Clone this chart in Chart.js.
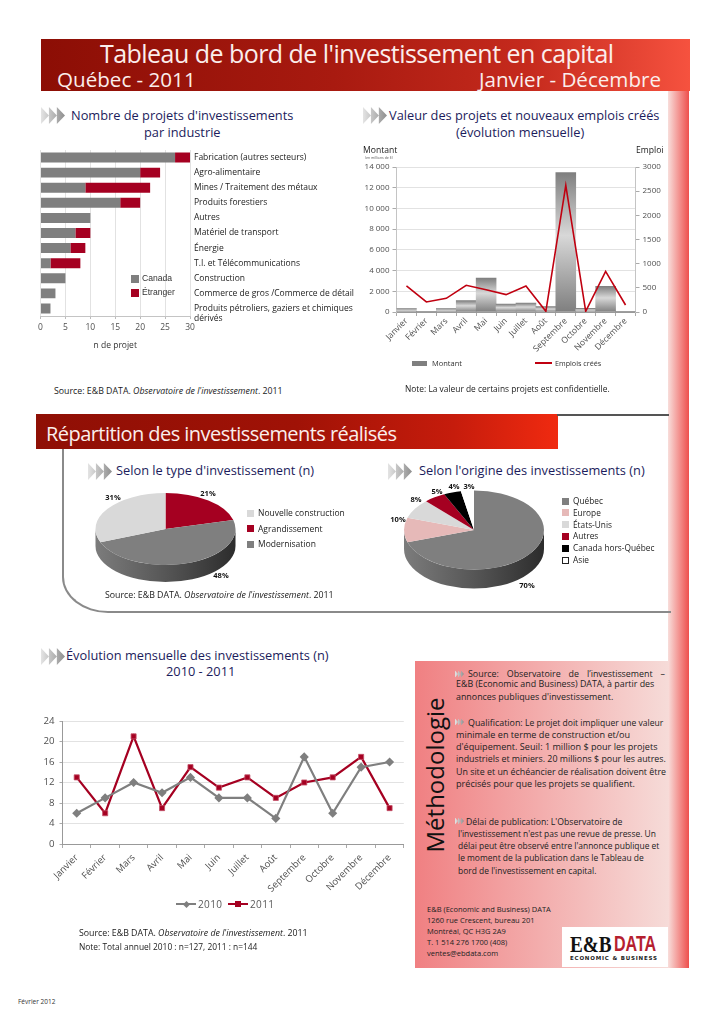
<!DOCTYPE html>
<html lang="fr">
<head>
<meta charset="utf-8">
<title>Tableau de bord de l'investissement en capital</title>
<script src="https://cdn.jsdelivr.net/npm/chart.js@4"></script>
<style>
  html, body { margin: 0; padding: 0; background: #fff; }
  #page { position: relative; width: 720px; height: 1018px; overflow: hidden; font-family: "Open Sans", sans-serif; color: #1a1a1a; }
  .box, canvas, .t, .arrows { position: absolute; }
  .t { white-space: nowrap; transform: translateY(-50%); line-height: 1.2; }
  .h { color: #1c1c5c; font-size: 12.8px; }
  .n { font-size: 8.8px; }
  .p { font-size: 8.9px; left: 456px; color: #222; }
  .q { font-size: 9.1px; }
  .d { font-size: 8.45px; left: 458px; }
  .c { font-size: 7.5px; left: 427px; color: #222; }
  .white { color: #fbeeec; }
  .arrows { width: 24px; height: 17px; background: linear-gradient(90deg, #e4e4e4, #8f8f8f);
    clip-path: polygon(0 0, 33% 50%, 33% 0, 66% 50%, 66% 0, 100% 50%, 66% 100%, 66% 50%, 33% 100%, 33% 50%, 0 100%); }
  .mini { width: 9px; height: 7px; transform: translateY(-50%); }
  .pct { font-size: 7.5px; font-weight: 700; color: #111; transform: translate(-50%, -50%); }
  .sw { position: absolute; }
</style>
</head>
<body>
<div id="page">
  <!-- header -->
  <div class="box" style="left:41px;top:39px;width:649px;height:52px;background:linear-gradient(90deg,#8c0e05 0%,#a81a10 45%,#c52a1d 75%,#f6523f 100%)"></div>
  <div class="t white" style="left:100px;top:53px;font-size:25px;letter-spacing:-.54px">Tableau de bord de l'investissement en capital</div>
  <div class="t white" style="left:57px;top:79px;font-size:20.6px">Québec - 2011</div>
  <div class="t white" style="left:479px;top:79px;font-size:20.6px">Janvier - Décembre</div>

  <!-- right band and panel -->
  <div class="box" style="left:668px;top:91px;width:21px;height:877px;background:linear-gradient(90deg,#f8dedb,#ee4f4c)"></div>
  <div class="box" style="left:415px;top:661px;width:253px;height:307px;background:linear-gradient(90deg,#f08082,#f6dbd8)"></div>

  <!-- top charts titles -->
  <div class="arrows" style="left:41px;top:107px"></div>
  <div class="t h" style="left:71px;top:116px">Nombre de projets d'investissements</div>
  <div class="t h" style="left:144px;top:133px">par industrie</div>
  <div class="arrows" style="left:363px;top:107px"></div>
  <div class="t h" style="left:389px;top:116px">Valeur des projets et nouveaux emplois créés</div>
  <div class="t h" style="left:456px;top:133px">(évolution mensuelle)</div>

  <canvas id="industryChart" width="350" height="215" style="left:30px;top:140px"></canvas>
  <div id="industryLegend"></div>
  <div class="t n" style="left:54px;top:391px">Source: E&amp;B DATA. <i>Observatoire de l'investissement</i>. 2011</div>

  <div class="t" style="left:363px;top:150px;font-size:8.6px">Montant</div>
  <div class="t" style="left:365px;top:158px;font-size:3.5px;color:#555">(en millions de $)</div>
  <div class="t" style="left:636px;top:150px;font-size:8.6px">Emploi</div>
  <canvas id="valueChart" width="330" height="240" style="left:350px;top:140px"></canvas>
  <div id="valueLegend"></div>
  <div class="t n" style="left:405px;top:389px;font-size:8.4px">Note: La valeur de certains projets est confidentielle.</div>

  <!-- section two -->
  <div class="box" style="left:36px;top:414px;width:522px;height:35px;background:linear-gradient(90deg,#8f0f05 0%,#a01206 50%,#c61c0c 80%,#f02a10 100%)"></div>
  <div class="t white" style="left:46px;top:434px;font-size:20px;letter-spacing:-.55px">Répartition des investissements réalisés</div>
  <div class="box" style="left:557px;top:414px;width:112px;height:1.5px;background:#555"></div>
  <div class="box" style="left:62px;top:449px;width:607px;height:162px;border-left:2px solid #8a8a8a;border-bottom:2px solid #8a8a8a;border-bottom-left-radius:46px 36px"></div>

  <div class="arrows" style="left:88px;top:463px"></div>
  <div class="t h" style="left:116px;top:471px">Selon le type d'investissement (n)</div>
  <div class="arrows" style="left:388px;top:463px"></div>
  <div class="t h" style="left:419px;top:471px">Selon l'origine des investissements (n)</div>

  <canvas id="typeChart" width="161" height="140" style="left:85px;top:459px"></canvas>
  <canvas id="originChart" width="160" height="140" style="left:394px;top:460px"></canvas>
  <div id="typeLabels"></div>
  <div id="originLabels"></div>
  <div id="typeLegend"></div>
  <div id="originLegend"></div>
  <div class="t n" style="left:105px;top:595px">Source: E&amp;B DATA. <i>Observatoire de l'investissement</i>. 2011</div>

  <!-- monthly evolution -->
  <div class="arrows" style="left:41px;top:648px"></div>
  <div class="t h" style="left:66px;top:656px">Évolution mensuelle des investissements (n)</div>
  <div class="t h" style="left:166px;top:672px">2010 - 2011</div>
  <canvas id="evolutionChart" width="380" height="215" style="left:30px;top:705px"></canvas>
  <div id="evolutionLegend"></div>
  <div class="t n" style="left:79px;top:933px">Source: E&amp;B DATA. <i>Observatoire de l'investissement</i>. 2011</div>
  <div class="t n" style="left:79px;top:947px;font-size:8.4px">Note: Total annuel 2010 : n=127, 2011 : n=144</div>

  <!-- methodology -->
  <div class="t" style="left:435px;top:775px;font-size:24px;color:#111;transform:translate(-50%,-50%) rotate(-90deg)">Méthodologie</div>

  <div class="arrows mini" style="left:455px;top:674px"></div>
  <div class="t p" style="left:468px;top:674px;width:197px;text-align:justify;text-align-last:justify;white-space:normal">Source: Observatoire de l’investissement –</div>
  <div class="t p" style="top:684px">E&amp;B (Economic and Business) DATA, à partir des</div>
  <div class="t p" style="top:697px">annonces publiques d'investissement.</div>

  <div class="arrows mini" style="left:455px;top:722px"></div>
  <div class="t p" style="left:468px;top:723px">Qualification: <span style="font-size:8.55px">Le projet doit impliquer une valeur</span></div>
  <div class="t p q" style="top:735px">minimale en terme de construction et/ou</div>
  <div class="t p q" style="top:747px">d'équipement. Seuil: 1 million $ pour les projets</div>
  <div class="t p" style="top:759px;font-size:8.85px">industriels et miniers. 20 millions $ pour les autres.</div>
  <div class="t p" style="top:772px;font-size:8.85px">Un site et un échéancier de réalisation doivent être</div>
  <div class="t p q" style="top:784px">précisés pour que les projets se qualifient.</div>

  <div class="arrows mini" style="left:455px;top:821px"></div>
  <div class="t p" style="left:466px;top:822px;font-size:8.7px">Délai de publication: L'Observatoire de</div>
  <div class="t p d" style="top:834px">l'investissement n'est pas une revue de presse. Un</div>
  <div class="t p d" style="top:846px">délai peut être observé entre l'annonce publique et</div>
  <div class="t p d" style="top:858px">le moment de la publication dans le Tableau de</div>
  <div class="t p d" style="top:871px">bord de l'investissement en capital.</div>

  <div class="t c" style="top:909px">E&amp;B (Economic and Business) DATA</div>
  <div class="t c" style="top:920px">1260 rue Crescent, bureau 201</div>
  <div class="t c" style="top:931px">Montréal, QC H3G 2A9</div>
  <div class="t c" style="top:942px">T. 1 514 276 1700 (408)</div>
  <div class="t c" style="top:953px">ventes@ebdata.com</div>

  <div class="box" style="left:562px;top:927px;width:106px;height:40px;background:#fff"></div>
  <div class="t" style="left:570px;top:944px;font:700 24px 'Liberation Serif',serif;color:#111;transform-origin:0 50%;transform:translateY(-50%) scaleX(.8)">E&amp;B</div>
  <div class="t" style="left:614px;top:944px;font:700 22px 'Liberation Sans',sans-serif;color:#b5202f;transform-origin:0 50%;transform:translateY(-50%) scaleX(.73)">DATA</div>
  <div class="t" style="left:570px;top:958px;font:700 5.5px 'DejaVu Sans',sans-serif;letter-spacing:.8px;color:#222">ECONOMIC &amp; BUSINESS</div>

  <div class="t" style="left:18px;top:1002px;font-size:6.5px;color:#333">Février 2012</div>
</div>

<script>
const months = ["Janvier", "Février", "Mars", "Avril", "Mai", "Juin", "Juillet", "Août", "Septembre", "Octobre", "Novembre", "Décembre"];

const industries = [
  "Fabrication (autres secteurs)", "Agro-alimentaire", "Mines / Traitement des métaux", "Produits forestiers",
  "Autres", "Matériel de transport", "Énergie", "T.I. et Télécommunications", "Construction",
  "Commerce de gros /Commerce de détail", ["", "Produits pétroliers, gaziers et chimiques", "dérivés"],
];
const canadaProjects = [27, 20, 9, 16, 10, 7, 6, 2, 5, 3, 2];
const foreignProjects = [3, 4, 13, 4, 0, 3, 3, 6, 0, 0, 0];

const montant = [320, 30, 320, 1100, 3280, 770, 870, 520, 13450, 350, 2480, 30];
const emplois = [538, 207, 283, 552, 462, 359, 538, 14, 2621, 14, 841, 145];

const typeNames = ["Agrandissement", "Modernisation", "Nouvelle construction"];
const typeShares = [21, 48, 31];
const originNames = ["Québec", "Europe", "États-Unis", "Autres", "Canada hors-Québec", "Asie"];
const originShares = [70, 10, 8, 5, 4, 3];

const invest2010 = [6, 9, 12, 10, 13, 9, 9, 5, 17, 6, 15, 16];
const invest2011 = [13, 6, 21, 7, 15, 11, 13, 9, 12, 13, 17, 7];

const GREY = "#7f7f7f";
const RED = "#a50021";
const TICK = "#4f4f4f";
const GRID = "#e2e2e2";

Chart.defaults.animation = false;
Chart.defaults.responsive = false;
Chart.defaults.font.family = "'Open Sans', sans-serif";
Chart.defaults.plugins.legend.display = false;
Chart.defaults.plugins.tooltip.enabled = false;

// fixed axis thickness so the plot sits where it does in the picture
const fixWidth = (n) => (scale) => { scale.width = n; scale.paddingTop = 0; scale.paddingBottom = 0; };
const fixHeight = (n) => (scale) => { scale.height = n; scale.paddingLeft = 0; scale.paddingRight = 0; };

function addText(parent, text, x, y, css) {
  const el = document.createElement("div");
  el.className = "t";
  el.textContent = text;
  el.style.cssText = `left:${x}px;top:${y}px;${css}`;
  parent.appendChild(el);
}

function addSwatch(parent, x, y, w, h, css) {
  const el = document.createElement("div");
  el.className = "sw";
  el.style.cssText = `left:${x}px;top:${y}px;width:${w}px;height:${h}px;${css}`;
  parent.appendChild(el);
}

// --- industries ---
new Chart(document.getElementById("industryChart"), {
  type: "bar",
  data: {
    labels: industries,
    datasets: [
      { label: "Canada", data: canadaProjects, backgroundColor: GREY },
      { label: "Étranger", data: foreignProjects, backgroundColor: RED },
    ],
  },
  options: {
    indexAxis: "y",
    layout: { padding: { left: 10.5, top: 10 } },
    datasets: { bar: { categoryPercentage: 0.66, barPercentage: 1 } },
    scales: {
      x: {
        stacked: true, min: 0, max: 30,
        ticks: { stepSize: 5, color: TICK, font: { size: 8.5 }, padding: 3, maxRotation: 0 },
        grid: { color: GRID, tickLength: 3, tickColor: "#bbb" },
        border: { color: "#c4c4c4" },
        title: { display: true, text: "n de projet", color: "#333", font: { size: 8.5 }, padding: { top: 7 } },
        afterFit: fixHeight(39),
      },
      y: {
        position: "right", stacked: true,
        ticks: { color: "#222", font: { size: 8.5 }, padding: 4, autoSkip: false, crossAlign: "near" },
        grid: { display: false, drawTicks: false },
        border: { display: false },
        afterFit: fixWidth(190),
      },
    },
  },
});

const industryLegend = document.getElementById("industryLegend");
[["Canada", GREY, 278], ["Étranger", RED, 292]].forEach(([name, color, y]) => {
  addSwatch(industryLegend, 131, y - 3.5, 8, 8, `background:${color}`);
  addText(industryLegend, name, 142, y, "font:8.6px 'Liberation Sans',sans-serif;color:#333");
});

// --- value and jobs ---
function barGradient(context) {
  const { chart, dataIndex, dataset } = context;
  const scale = chart.scales.y;
  const top = scale ? scale.getPixelForValue(dataset.data[dataIndex]) : NaN;
  const bottom = scale ? scale.getPixelForValue(0) : NaN;
  if (!Number.isFinite(top) || !Number.isFinite(bottom)) return GREY;
  const g = chart.ctx.createLinearGradient(0, top, 0, bottom);
  g.addColorStop(0, "#7f7f7f");
  g.addColorStop(0.45, "#d8d8d8");
  g.addColorStop(1, "#7f7f7f");
  return g;
}

new Chart(document.getElementById("valueChart"), {
  data: {
    labels: months,
    datasets: [
      { type: "line", label: "Emplois créés", data: emplois, yAxisID: "y2", borderColor: "#c00010", borderWidth: 1.6, pointRadius: 0, tension: 0, order: 0 },
      { type: "bar", label: "Montant", data: montant, yAxisID: "y", backgroundColor: barGradient, categoryPercentage: 1, barPercentage: 1, order: 1 },
    ],
  },
  options: {
    layout: { padding: { top: 27 } },
    scales: {
      x: {
        offset: true,
        ticks: { color: TICK, font: { size: 8.5 }, maxRotation: 45, minRotation: 45, padding: 0, autoSkip: false },
        grid: { offset: true, drawOnChartArea: false, tickLength: 4, tickColor: "#aaa" },
        border: { color: "#999" },
        afterFit: fixHeight(68),
      },
      y: {
        min: 0, max: 14000,
        ticks: { stepSize: 2000, color: TICK, font: { size: 8 }, padding: 3, callback: (v) => String(v).replace(/(\d)(\d{3})$/, "$1 $2") },
        grid: { color: GRID, tickLength: 4, tickColor: "#aaa", lineWidth: 1 },
        border: { color: "#c4c4c4" },
        afterFit: fixWidth(46.5),
      },
      y2: {
        position: "right", min: 0, max: 3000,
        ticks: { stepSize: 500, color: TICK, font: { size: 8 }, padding: 3, callback: (v) => String(v) },
        grid: { drawOnChartArea: false, tickLength: 4, tickColor: "#aaa" },
        border: { color: "#c4c4c4" },
        afterFit: fixWidth(44.5),
      },
    },
  },
});

const valueLegend = document.getElementById("valueLegend");
addSwatch(valueLegend, 412, 361, 15, 5, `background:${GREY}`);
addText(valueLegend, "Montant", 432, 363, "font-size:7.5px;color:#333");
addSwatch(valueLegend, 535, 362, 17, 2, "background:#c00010");
addText(valueLegend, "Emplois créés", 555, 363, "font-size:7.2px;color:#333");

// --- 3D look for the pies: flatten the top face and put a wall under it ---
const pie3d = {
  id: "pie3d",
  beforeDatasetsDraw(chart, args, opts) {
    const { x, y, outerRadius: r } = chart.getDatasetMeta(0).data[0];
    const ctx = chart.ctx;
    const ry = r * opts.flatten;
    const wall = ctx.createLinearGradient(x - r, 0, x + r, 0);
    wall.addColorStop(0, "#7c7c7c");
    wall.addColorStop(0.5, "#565656");
    wall.addColorStop(1, "#2c2c2c");
    ctx.save();
    ctx.fillStyle = wall;
    ctx.beginPath();
    ctx.ellipse(x, y, r, ry, 0, Math.PI, 0, true);
    ctx.ellipse(x, y + opts.depth, r, ry, 0, 0, Math.PI);
    ctx.closePath();
    ctx.fill();
    ctx.translate(x, y);
    ctx.scale(1, opts.flatten);
    ctx.translate(-x, -y);
  },
  afterDatasetsDraw(chart) {
    chart.ctx.restore();
  },
};

function drawPie(id, names, shares, colors, flatten, depth) {
  return new Chart(document.getElementById(id), {
    type: "pie",
    data: { labels: names, datasets: [{ data: shares, backgroundColor: colors, borderWidth: 0 }] },
    options: { plugins: { pie3d: { flatten, depth } } },
    plugins: [pie3d],
  });
}

const typeColors = [RED, GREY, "#d9d9d9"];
const originColors = [GREY, "#e6b9b8", "#d9d9d9", RED, "#000000", "#ffffff"];
drawPie("typeChart", typeNames, typeShares, typeColors, 0.514, 17);
drawPie("originChart", originNames, originShares, originColors, 0.564, 19);

const typeLabelSpots = [[208, 493], [221, 575], [113, 497]];
const originLabelSpots = [[527, 585], [398, 519], [416, 499], [437, 491], [454, 486], [469, 486]];

function addPieLabels(holderId, shares, spots) {
  const holder = document.getElementById(holderId);
  shares.forEach((share, i) => {
    const el = document.createElement("div");
    el.className = "t pct";
    el.textContent = `${share}%`;
    el.style.left = `${spots[i][0]}px`;
    el.style.top = `${spots[i][1]}px`;
    holder.appendChild(el);
  });
}
addPieLabels("typeLabels", typeShares, typeLabelSpots);
addPieLabels("originLabels", originShares, originLabelSpots);

const typeLegend = document.getElementById("typeLegend");
[2, 0, 1].forEach((i, row) => {
  const y = 513 + row * 15.5;
  addSwatch(typeLegend, 247, y - 3.5, 7, 7, `background:${typeColors[i]}`);
  addText(typeLegend, typeNames[i], 258, y, "font-size:8.5px;color:#222");
});

const originLegend = document.getElementById("originLegend");
originNames.forEach((name, i) => {
  const y = 501 + i * 11.8;
  const edge = i === 5 ? "box-sizing:border-box;border:1px solid #222;" : "";
  addSwatch(originLegend, 562, y - 3.5, 7, 7, `${edge}background:${originColors[i]}`);
  addText(originLegend, name, 573, y, "font-size:8.3px;color:#222");
});

// --- monthly evolution ---
new Chart(document.getElementById("evolutionChart"), {
  type: "line",
  data: {
    labels: months,
    datasets: [
      { label: "2010", data: invest2010, borderColor: GREY, backgroundColor: GREY, borderWidth: 2.2, pointStyle: "rectRot", pointRadius: 3, tension: 0 },
      { label: "2011", data: invest2011, borderColor: RED, backgroundColor: RED, borderWidth: 2.2, pointStyle: "rect", pointRadius: 3.6, pointBorderColor: "#c4506a", pointBorderWidth: 0.8, tension: 0 },
    ],
  },
  options: {
    layout: { padding: { top: 16 } },
    scales: {
      x: {
        offset: true,
        ticks: { color: TICK, font: { size: 9.5 }, maxRotation: 45, minRotation: 45, padding: 4, autoSkip: false },
        grid: { offset: true, drawOnChartArea: false, tickLength: 4, tickColor: "#aaa" },
        border: { color: "#999" },
        afterFit: fixHeight(76),
      },
      y: {
        min: 0, max: 24,
        ticks: { stepSize: 4, color: TICK, font: { size: 9.7 }, padding: 5 },
        grid: { color: GRID, tickLength: 3, tickColor: "#aaa" },
        border: { color: "#999" },
        afterFit: fixWidth(32.5),
      },
    },
  },
});

// legend of the monthly chart, line with its marker
const evolutionLegend = document.getElementById("evolutionLegend");
[["2010", GREY, 176, "rotate(45deg)", 5], ["2011", RED, 228, "none", 6]].forEach(([name, color, x, turn, size]) => {
  addSwatch(evolutionLegend, x, 903, 20, 2, `background:${color}`);
  addSwatch(evolutionLegend, x + 10 - size / 2, 904 - size / 2, size, size, `background:${color};transform:${turn}`);
  addText(evolutionLegend, name, x + 22, 904, "font-size:10px;letter-spacing:.4px;color:#595959");
});
</script>
</body>
</html>
